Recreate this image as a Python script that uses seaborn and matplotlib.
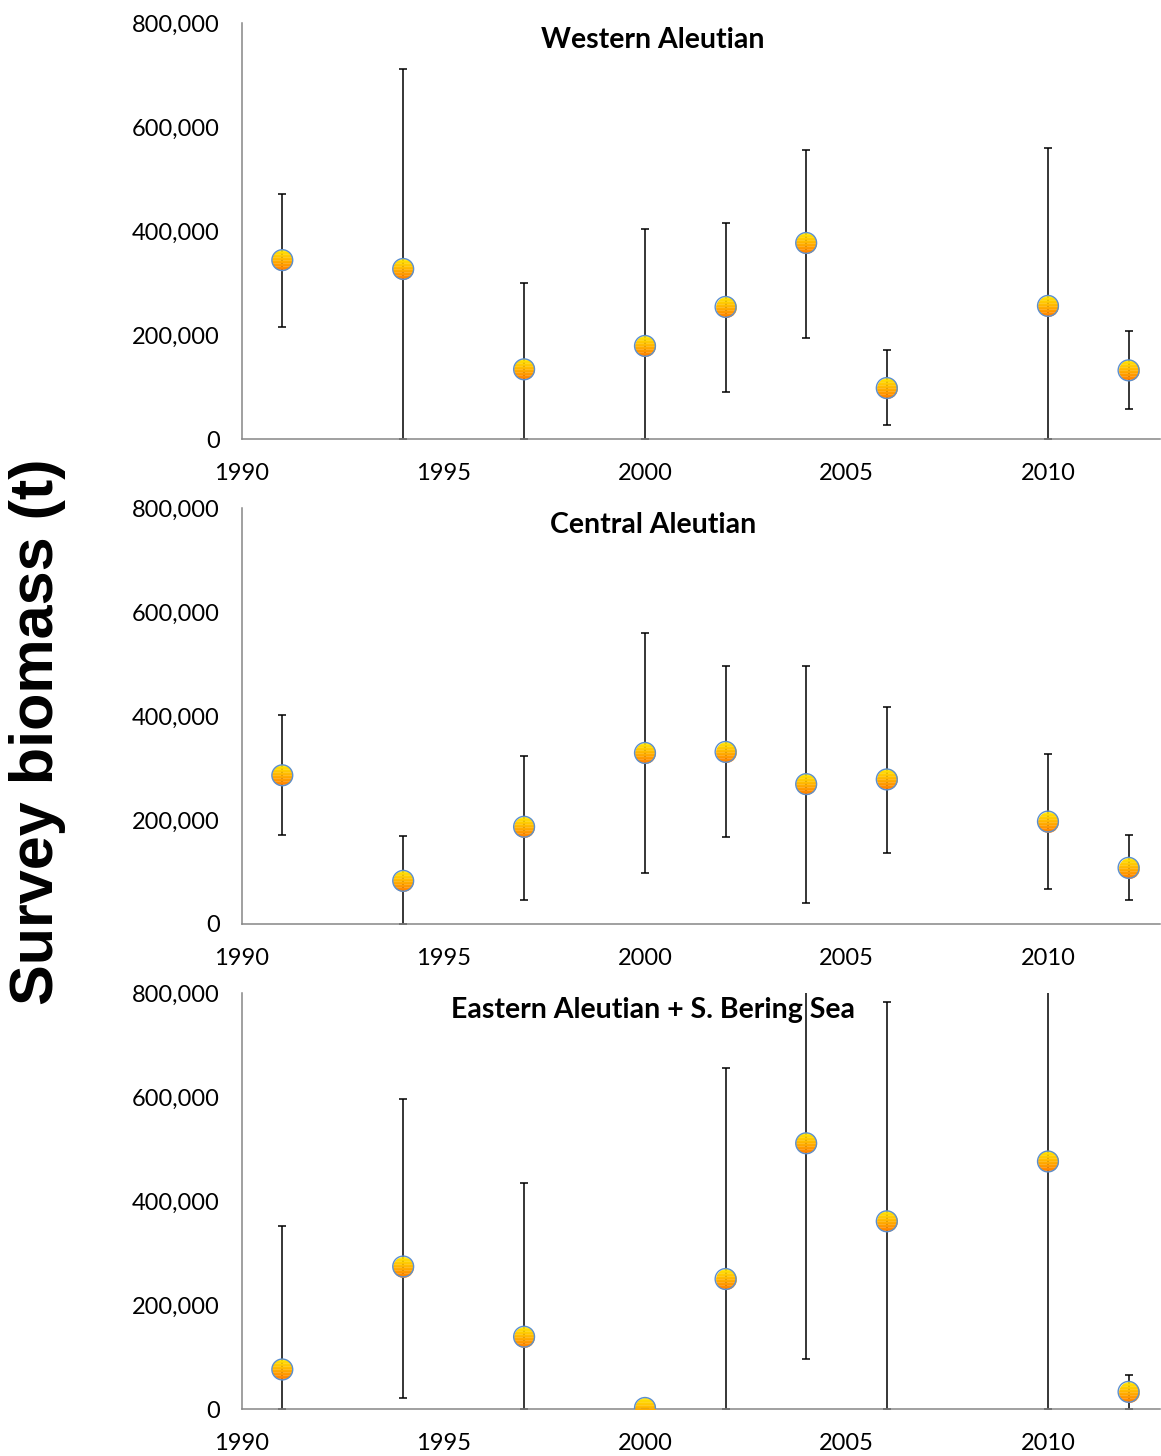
import numpy as np
import pandas as pd
import matplotlib
matplotlib.use("Agg")
import matplotlib.pyplot as plt
from matplotlib.ticker import FuncFormatter
from matplotlib.path import Path
from matplotlib.colors import to_rgb
import seaborn as sns

# survey years (same for all three areas)
years = [1991, 1994, 1997, 2000, 2002, 2004, 2006, 2010, 2012]

# Western Aleutian
west = [344000, 327000, 134000, 179000, 254000, 377000, 98000, 256000, 132000]
west_lo = [215000, 0, 0, 0, 91000, 194000, 27000, 0, 58000]
west_hi = [471000, 711000, 300000, 404000, 415000, 556000, 171000, 560000, 207000]

# Central Aleutian
central = [286000, 83000, 187000, 329000, 331000, 269000, 278000, 197000, 108000]
central_lo = [171000, 0, 47000, 98000, 167000, 40000, 137000, 68000, 46000]
central_hi = [401000, 169000, 323000, 560000, 496000, 496000, 417000, 326000, 172000]

# Eastern Aleutian + S. Bering Sea
east = [76000, 274000, 139000, 2000, 250000, 511000, 361000, 476000, 33000]
east_lo = [0, 22000, 0, 0, 0, 96000, 0, 0, 0]
east_hi = [351000, 597000, 435000, 2000, 655000, 930000, 782000, 1050000, 65000]

titles = ["Western Aleutian", "Central Aleutian", "Eastern Aleutian + S. Bering Sea"]
yticks = [0, 200000, 400000, 600000, 800000]
xticks = [1990, 1995, 2000, 2005, 2010]

sns.set_style("white")
plt.rcParams['font.family'] = ['Lato', 'DejaVu Sans']
plt.rcParams['text.color'] = 'black'


def band_marker(y_top, y_bot, n=24):
    # horizontal slice of the unit circle, plus a zero-area point at (1, 0)
    # so matplotlib scales every slice the same way
    ts = np.linspace(y_top, y_bot, n)
    right = [(np.sqrt(max(0.0, 1 - t * t)), t) for t in ts]
    left = [(-np.sqrt(max(0.0, 1 - t * t)), t) for t in ts[::-1]]
    verts = right + left + [right[0]]
    codes = [Path.MOVETO] + [Path.LINETO] * (len(verts) - 2) + [Path.CLOSEPOLY]
    verts += [(1, 0), (1, 0), (1, 0)]
    codes += [Path.MOVETO, Path.LINETO, Path.CLOSEPOLY]
    return Path(verts, codes)


n_bands = 14
edges = np.linspace(1, -1, n_bands + 1)
c_top = np.array(to_rgb("#FFE800"))
c_bot = np.array(to_rgb("#FF7A00"))
bands = []
for k in range(n_bands):
    f = (k + 0.5) / n_bands
    bands.append((band_marker(edges[k], edges[k + 1] - 0.02 if k < n_bands - 1 else -1),
                  tuple(c_top * (1 - f) + c_bot * f)))

fig = plt.figure(figsize=(11.61, 14.56), dpi=100)
W, H = 1161, 1456
tops = [23, 508, 993]
axis_grey = "#868686"
msize = 225

panels = [
    (west, west_lo, west_hi),
    (central, central_lo, central_hi),
    (east, east_lo, east_hi),
]

for i, (vals, lo, hi) in enumerate(panels):
    top = tops[i]
    ax = fig.add_axes([242 / W, 1 - (top + 416) / H, 918 / W, 416 / H])
    df = pd.DataFrame({"year": years, "biomass": vals, "lo": lo, "hi": hi})

    yerr = np.array([df["biomass"] - df["lo"], df["hi"] - df["biomass"]])
    ax.errorbar(df["year"], df["biomass"], yerr=yerr, fmt="none",
                ecolor="black", elinewidth=1.1, capsize=3, capthick=1.1, zorder=2)

    # gradient-filled circles: yellow at top, orange at bottom
    for path, col in bands:
        sns.scatterplot(data=df, x="year", y="biomass", ax=ax, marker=path,
                        color=col, s=msize, linewidth=0, zorder=3, legend=False)
    sns.scatterplot(data=df, x="year", y="biomass", ax=ax, marker="o",
                    facecolor="none", edgecolor="#5B8FD0", s=msize,
                    linewidth=1.0, zorder=4, legend=False)

    ax.set_xlim(1990, 2012.78)
    ax.set_ylim(0, 800000)
    ax.set_xticks(xticks)
    ax.set_yticks(yticks)
    ax.yaxis.set_major_formatter(FuncFormatter(lambda v, p: f"{int(v):,}"))
    ax.set_xlabel("")
    ax.set_ylabel("")

    for s in ["top", "right"]:
        ax.spines[s].set_visible(False)
    for s in ["left", "bottom"]:
        ax.spines[s].set_color(axis_grey)
        ax.spines[s].set_linewidth(1.1)
    ax.tick_params(axis="both", direction="out", length=7, width=1.1,
                   color=axis_grey, labelsize=17, labelcolor="black")
    ax.tick_params(axis="y", pad=9)
    ax.tick_params(axis="x", pad=10)

    ax.text((653 - 242) / 918, 1 - 17 / 416, titles[i], transform=ax.transAxes,
            ha="center", va="center", fontsize=20.5, fontweight="bold",
            color="black")

fig.text(38 / W, 1 - 732 / H, "Survey biomass (t)", rotation=90,
         ha="center", va="center", fontsize=44, fontweight="bold",
         color="black", family=["Liberation Sans", "DejaVu Sans"])

fig.savefig("out.png", dpi=100)
